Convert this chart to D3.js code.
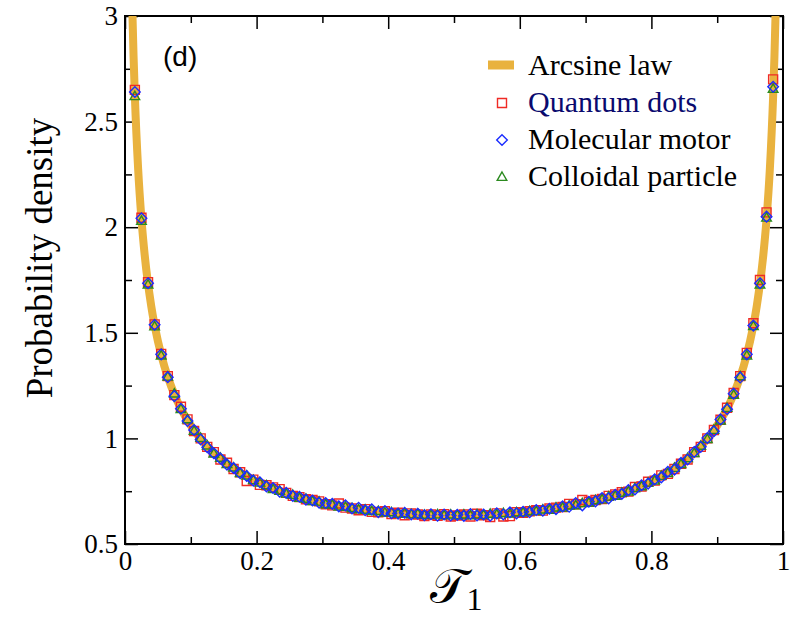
<!DOCTYPE html>
<html>
<head>
<meta charset="utf-8">
<script src="https://cdnjs.cloudflare.com/ajax/libs/d3/7.8.5/d3.min.js"></script>
<style>
    body { margin: 0; background: #fff; }
    svg text { font-family: "Liberation Serif", "Times New Roman", serif; fill: #000; }
</style>
</head>
<body>
<div id="chart"></div>
<script>
// bin centres of the histograms
var tau = [0.015, 0.025, 0.035, 0.045, 0.055, 0.065, 0.075, 0.085, 0.095, 0.105,
    0.115, 0.125, 0.135, 0.145, 0.155, 0.165, 0.175, 0.185, 0.195, 0.205,
    0.215, 0.225, 0.235, 0.245, 0.255, 0.265, 0.275, 0.285, 0.295, 0.305,
    0.315, 0.325, 0.335, 0.345, 0.355, 0.365, 0.375, 0.385, 0.395, 0.405,
    0.415, 0.425, 0.435, 0.445, 0.455, 0.465, 0.475, 0.485, 0.495, 0.505,
    0.515, 0.525, 0.535, 0.545, 0.555, 0.565, 0.575, 0.585, 0.595, 0.605,
    0.615, 0.625, 0.635, 0.645, 0.655, 0.665, 0.675, 0.685, 0.695, 0.705,
    0.715, 0.725, 0.735, 0.745, 0.755, 0.765, 0.775, 0.785, 0.795, 0.805,
    0.815, 0.825, 0.835, 0.845, 0.855, 0.865, 0.875, 0.885, 0.895, 0.905,
    0.915, 0.925, 0.935, 0.945, 0.955, 0.965, 0.975, 0.985];

var quantumDots = [2.650, 2.045, 1.740, 1.540, 1.400, 1.295, 1.205, 1.150, 1.090, 1.035,
    1.000, 0.960, 0.935, 0.900, 0.885, 0.855, 0.840, 0.798, 0.805, 0.780,
    0.778, 0.768, 0.760, 0.742, 0.728, 0.722, 0.712, 0.708, 0.702, 0.688,
    0.683, 0.692, 0.672, 0.668, 0.660, 0.665, 0.652, 0.650, 0.655, 0.642,
    0.648, 0.636, 0.645, 0.640, 0.632, 0.640, 0.633, 0.641, 0.630,
    0.635, 0.640, 0.630, 0.643, 0.636, 0.628, 0.645, 0.630, 0.632, 0.650,
    0.648, 0.655, 0.660, 0.658, 0.668, 0.672, 0.675, 0.690, 0.688, 0.708,
    0.700, 0.708, 0.713, 0.728, 0.735, 0.745, 0.748, 0.770, 0.772, 0.795,
    0.800, 0.825, 0.832, 0.855, 0.880, 0.900, 0.935, 0.960, 1.000, 1.040,
    1.088, 1.145, 1.215, 1.295, 1.405, 1.545, 1.750, 2.070, 2.700];

var molecularMotor = [2.640, 2.042, 1.735, 1.538, 1.398, 1.290, 1.200, 1.140, 1.082, 1.040,
    0.995, 0.958, 0.930, 0.905, 0.876, 0.860, 0.835, 0.822, 0.800, 0.792,
    0.772, 0.765, 0.748, 0.742, 0.728, 0.724, 0.710, 0.706, 0.695, 0.694,
    0.690, 0.678, 0.683, 0.668, 0.672, 0.660, 0.664, 0.651, 0.656, 0.646,
    0.644, 0.648, 0.640, 0.643, 0.636, 0.641, 0.634, 0.640, 0.635,
    0.638, 0.633, 0.642, 0.635, 0.640, 0.634, 0.645, 0.640, 0.650, 0.645,
    0.653, 0.650, 0.661, 0.658, 0.667, 0.665, 0.678, 0.676, 0.694, 0.683,
    0.700, 0.702, 0.718, 0.716, 0.733, 0.737, 0.755, 0.758, 0.778, 0.786,
    0.806, 0.815, 0.842, 0.852, 0.884, 0.900, 0.936, 0.960, 1.002, 1.034,
    1.090, 1.138, 1.212, 1.288, 1.398, 1.534, 1.735, 2.050, 2.665];

var colloidalParticle = [2.620, 2.030, 1.728, 1.530, 1.392, 1.292, 1.212, 1.138, 1.090, 1.036,
    1.002, 0.966, 0.928, 0.908, 0.878, 0.862, 0.836, 0.824, 0.802, 0.790,
    0.778, 0.760, 0.752, 0.738, 0.732, 0.718, 0.714, 0.703, 0.700, 0.688,
    0.686, 0.677, 0.676, 0.670, 0.664, 0.662, 0.656, 0.656, 0.649, 0.650,
    0.643, 0.646, 0.640, 0.642, 0.638, 0.637, 0.640, 0.635, 0.639,
    0.636, 0.639, 0.635, 0.640, 0.637, 0.643, 0.640, 0.646, 0.644, 0.650,
    0.649, 0.656, 0.655, 0.663, 0.662, 0.672, 0.672, 0.682, 0.683, 0.693,
    0.696, 0.707, 0.711, 0.724, 0.728, 0.742, 0.748, 0.764, 0.773, 0.790,
    0.800, 0.822, 0.836, 0.860, 0.878, 0.906, 0.930, 0.965, 0.996, 1.040,
    1.084, 1.144, 1.206, 1.294, 1.392, 1.532, 1.728, 2.045, 2.655];

// arcsine law curve
var arcsineX = [0.010, 0.0114, 0.013, 0.015, 0.02, 0.025, 0.03, 0.04, 0.05, 0.06, 0.07, 0.08,
    0.10, 0.125, 0.15, 0.20, 0.25, 0.30, 0.35, 0.40, 0.45, 0.50,
    0.55, 0.60, 0.65, 0.70, 0.75, 0.80, 0.85, 0.875, 0.90, 0.92, 0.93, 0.94,
    0.95, 0.96, 0.97, 0.975, 0.98, 0.985, 0.987, 0.9886, 0.990];
var arcsineY = [3.199, 2.998, 2.810, 2.619, 2.274, 2.039, 1.866, 1.624, 1.461, 1.340, 1.248, 1.173,
    1.061, 0.963, 0.891, 0.796, 0.735, 0.695, 0.667, 0.650, 0.640, 0.637,
    0.640, 0.650, 0.667, 0.695, 0.735, 0.796, 0.891, 0.963, 1.061, 1.173, 1.248, 1.340,
    1.461, 1.624, 1.866, 2.039, 2.274, 2.619, 2.810, 2.998, 3.199];

var xTicks = [0, 0.2, 0.4, 0.6, 0.8, 1];
var xMinorTicks = [0.1, 0.3, 0.5, 0.7, 0.9];
var yTicks = [0.5, 1, 1.5, 2, 2.5, 3];
var yMinorTicks = [0.75, 1.25, 1.75, 2.25, 2.75];

var seriesNames = ["Quantum dots", "Molecular motor", "Colloidal particle"];

var margin = {top: 16, right: 17, bottom: 73, left: 125},
    width = 800 - margin.left - margin.right,
    height = 617 - margin.top - margin.bottom;

var svg = d3.select("#chart").append("svg")
    .attr("width", 800)
    .attr("height", 617);

var g = svg.append("g")
    .attr("transform", "translate(" + margin.left + "," + margin.top + ")");

var x = d3.scaleLinear().domain([0, 1]).range([0, width]);
var y = d3.scaleLinear().domain([0.5, 3]).range([height, 0]);

g.append("clipPath")
    .attr("id", "clip")
    .append("rect")
    .attr("width", width)
    .attr("height", height);

// ticks point inward on all four sides, labels only bottom and left
function drawAxis(axis, pos, values, size, labels) {
    axis.tickValues(values)
        .tickSize(-size)
        .tickPadding(7)
        .tickFormat(labels ? d3.format("") : "");
    var ga = g.append("g").attr("transform", pos).call(axis);
    ga.select(".domain").remove();
    ga.selectAll("line").attr("stroke", "#000").attr("stroke-width", 1.5);
    ga.selectAll("text")
        .style("font-family", "'Liberation Serif', 'Times New Roman', serif")
        .style("font-size", "27px")
        .attr("fill", "#000");
}

var bottomPos = "translate(0," + height + ")",
    rightPos = "translate(" + width + ",0)";

drawAxis(d3.axisBottom(x), bottomPos, xTicks, 13, true);
drawAxis(d3.axisBottom(x), bottomPos, xMinorTicks, 7, false);
drawAxis(d3.axisTop(x), "translate(0,0)", xTicks, 13, false);
drawAxis(d3.axisTop(x), "translate(0,0)", xMinorTicks, 7, false);
drawAxis(d3.axisLeft(y), "translate(0,0)", yTicks, 13, true);
drawAxis(d3.axisLeft(y), "translate(0,0)", yMinorTicks, 7, false);
drawAxis(d3.axisRight(y), rightPos, yTicks, 13, false);
drawAxis(d3.axisRight(y), rightPos, yMinorTicks, 7, false);

g.append("rect")
    .attr("width", width)
    .attr("height", height)
    .attr("fill", "none")
    .attr("stroke", "#000")
    .attr("stroke-width", 2);

// arcsine law line
var line = d3.line()
    .x(function (d, i) { return x(arcsineX[i]); })
    .y(function (d) { return y(d); })
    .curve(d3.curveMonotoneX);

g.append("path")
    .datum(arcsineY)
    .attr("clip-path", "url(#clip)")
    .attr("d", line)
    .attr("fill", "none")
    .attr("stroke", "#e9b23e")
    .attr("stroke-width", 8);

var shapes = {
    square: "M-4.5,-4.5h9v9h-9z",
    diamond: "M0,-5.3L5.3,0L0,5.3L-5.3,0Z",
    triangle: "M0,-5L4.8,3.4L-4.8,3.4Z"
};

var series = [
    {name: seriesNames[0], values: quantumDots, shape: shapes.square, color: "#f02a24"},
    {name: seriesNames[2], values: colloidalParticle, shape: shapes.triangle, color: "#2b8a1f"},
    {name: seriesNames[1], values: molecularMotor, shape: shapes.diamond, color: "#1a2cff"}
];

series.forEach(function (s) {
    g.selectAll(null)
        .data(s.values)
        .enter().append("path")
        .attr("d", s.shape)
        .attr("transform", function (d, i) {
            return "translate(" + x(tau[i]) + "," + y(d) + ")";
        })
        .attr("fill", "none")
        .attr("stroke", s.color)
        .attr("stroke-width", 1.4);
});

// panel tag
g.append("text")
    .attr("x", 163 - margin.left)
    .attr("y", 66 - margin.top)
    .style("font-family", "'Liberation Sans', Arial, sans-serif")
    .style("font-size", "28px")
    .text("(d)");

// legend
var legend = svg.append("g").attr("class", "legend");

legend.append("line")
    .attr("x1", 488).attr("x2", 514)
    .attr("y1", 65).attr("y2", 65)
    .attr("stroke", "#e9b23e")
    .attr("stroke-width", 9);

legend.append("text")
    .attr("x", 528).attr("y", 75)
    .style("font-size", "30px")
    .text("Arcsine law");

var legendItems = [
    {name: seriesNames[0], shape: shapes.square, color: "#f02a24", text: "#0a0a6e"},
    {name: seriesNames[1], shape: shapes.diamond, color: "#1a2cff", text: "#000"},
    {name: seriesNames[2], shape: shapes.triangle, color: "#2b8a1f", text: "#000"}
];

legendItems.forEach(function (d, i) {
    var rowY = 112 + i * 37;
    legend.append("path")
        .attr("d", d.shape)
        .attr("transform", "translate(502," + (rowY - 9) + ")")
        .attr("fill", "none")
        .attr("stroke", d.color)
        .attr("stroke-width", 1.4);
    legend.append("text")
        .attr("x", 528).attr("y", rowY)
        .style("font-size", "30px")
        .style("fill", d.text)
        .text(d.name);
});

// axis titles
svg.append("text")
    .attr("transform", "translate(52,258) rotate(-90)")
    .attr("text-anchor", "middle")
    .style("font-size", "37px")
    .text("Probability density");

var xt = svg.append("text")
    .attr("x", 456)
    .attr("y", 603)
    .attr("text-anchor", "middle")
    .style("font-size", "48px");
xt.append("tspan").style("font-family", "'DejaVu Serif', 'DejaVu Sans', serif").text("𝒯");
xt.append("tspan").attr("dy", 7).style("font-size", "32px").text("1");
</script>
</body>
</html>
